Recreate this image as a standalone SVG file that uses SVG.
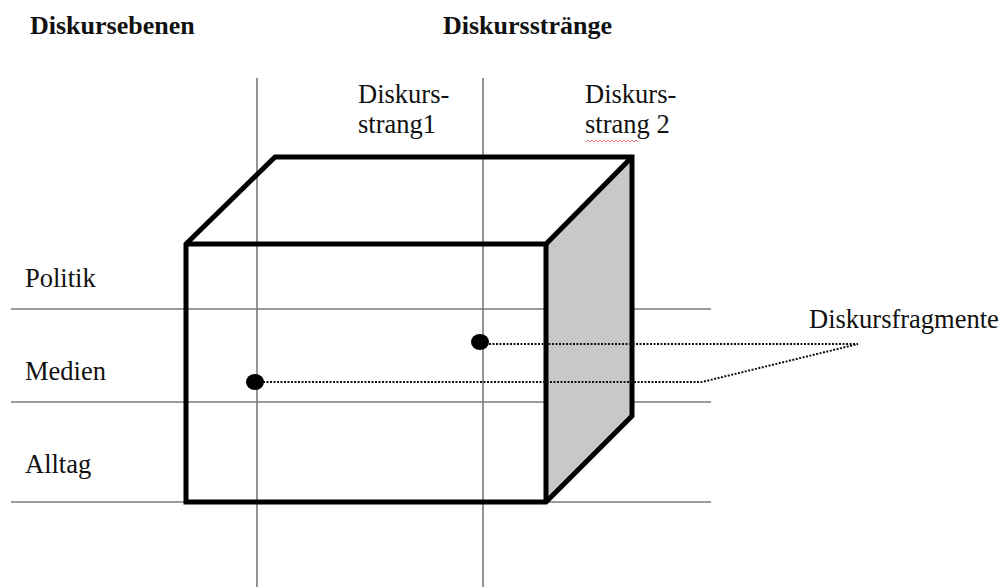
<svg xmlns="http://www.w3.org/2000/svg" width="1005" height="587" viewBox="0 0 1005 587">
<style>
.hdr{font-family:"Liberation Serif","Times New Roman",serif;font-weight:bold;font-size:26px;fill:#111}
.lbl{font-family:"Liberation Serif","Times New Roman",serif;font-size:26.5px;fill:#111}
.grid{stroke:#7a7a7a;stroke-width:1.6;fill:none}
.edge{stroke:#000;stroke-width:5;fill:none;stroke-linejoin:miter}
.dots{stroke:#111;stroke-width:2;stroke-dasharray:2 1.5;fill:none}
</style>
<rect width="1005" height="587" fill="#fff"/>
<g id="headers">
<text class="hdr" x="30" y="34">Diskursebenen</text>
<text class="hdr" x="443" y="34">Diskursstränge</text>
</g>
<g id="grid">
<line class="grid" x1="11" y1="309" x2="711" y2="309"/>
<line class="grid" x1="11" y1="402" x2="711" y2="402"/>
<line class="grid" x1="11" y1="502" x2="711" y2="502"/>
<line class="grid" x1="257" y1="78" x2="257" y2="587"/>
<line class="grid" x1="483" y1="78" x2="483" y2="587"/>
</g>
<g id="level-labels">
<text class="lbl" x="25" y="287">Politik</text>
<text class="lbl" x="25" y="380">Medien</text>
<text class="lbl" x="25" y="473">Alltag</text>
</g>
<g id="strand-labels">
<text class="lbl" x="358" y="103">Diskurs-</text>
<text class="lbl" x="358" y="133">strang1</text>
<text class="lbl" x="585" y="103">Diskurs-</text>
<text class="lbl" x="585" y="133">strang 2</text>
<path d="M586 142 l2 -2 l2 2 l2 -2 l2 2 l2 -2 l2 2 l2 -2 l2 2 l2 -2 l2 2 l2 -2 l2 2 l2 -2 l2 2 l2 -2 l2 2 l2 -2 l2 2 l2 -2 l2 2 l2 -2 l2 2 l2 -2 l2 2 l2 -2 l2 2" stroke="#e05050" stroke-width="0.8" fill="none"/>
</g>
<g id="cube">
<polygon points="546,244 632,157 632,416 546,502" fill="#c8c8c8" stroke="none"/>
<polygon class="edge" points="186,244 275,157 632,157 632,416 546,502 186,502"/>
<polyline class="edge" points="186,244 546,244 632,157"/>
<line class="edge" x1="546" y1="244" x2="546" y2="502"/>
</g>
<g id="connectors">
<polyline class="dots" points="489,344 858,344"/>
<polyline class="dots" points="263,382 702,382 858,344"/>
</g>
<g id="fragments">
<ellipse cx="480" cy="342" rx="9" ry="8" fill="#000"/>
<ellipse cx="255" cy="382" rx="9" ry="8" fill="#000"/>
<text class="lbl" x="809" y="328">Diskursfragmente</text>
</g>
</svg>
